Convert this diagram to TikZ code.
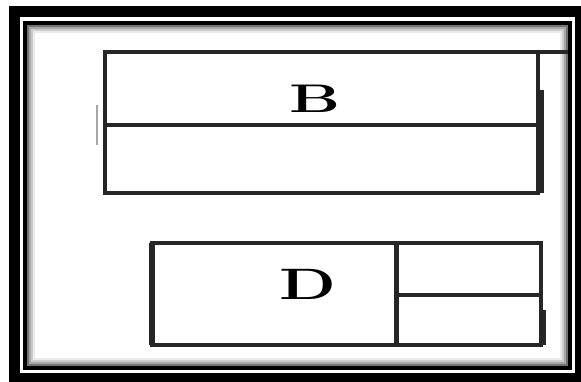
\documentclass[tikz,border=0pt]{standalone}
\usepackage{amssymb}
\usepackage{amsmath}
\usepackage{tikz}

\begin{document}
\begin{tikzpicture}[x=1pt,y=-1pt]
				\tikzstyle{every node}+=[inner sep=0pt]
				\tikzstyle{rule}=[black!85, line width=4pt]
				\tikzstyle{letter}=[font=\fontsize{42}{42}\selectfont\bfseries]
				\useasboundingbox (0,0) rectangle (581,381);
				\fill [white] (0,0) rectangle (581,381);
				% frame
				\begin{scope}
				\clip (0,0) rectangle (581,381);
				\draw [black, line width=11pt] (14.5,11.5) rectangle (580.5,378.5);
				\end{scope}
				\draw [black, line width=4pt] (25,23) rectangle (570,368);
				\foreach \d/\g in {3/55,5/35,7/20,9/8}
					\draw [black!\g, line width=2pt] ({25+\d},{23+\d}) rectangle ({570-\d},{368-\d});
				% box B
				\draw [rule] (105,52) rectangle (538,193);
				\draw [rule] (538,52) -- (568,52);
				\draw [rule] (105,125) -- (538,125);
				\draw [black!85, line width=5pt] (541,90) -- (541,193);
				\draw [black!35, line width=2pt] (97,105) -- (97,145);
				\node (lblB) at (315,99) {\scalebox{1.6}[1]{\fontsize{40}{40}\selectfont\bfseries B}};
				% box D
				\draw [black!85, line width=6pt] (152,243) -- (152,345);
				\draw [rule] (152,243) rectangle (541,345);
				\draw [black!85, line width=5pt] (396,243) -- (396,345);
				\draw [rule] (396,295) -- (541,295);
				\draw [black!85, line width=6pt] (543,310) -- (543,345);
				\node (lblD) at (308,284) {\scalebox{1.5}[1]{\fontsize{44}{44}\selectfont\bfseries D}};
			\end{tikzpicture}
\end{document}
